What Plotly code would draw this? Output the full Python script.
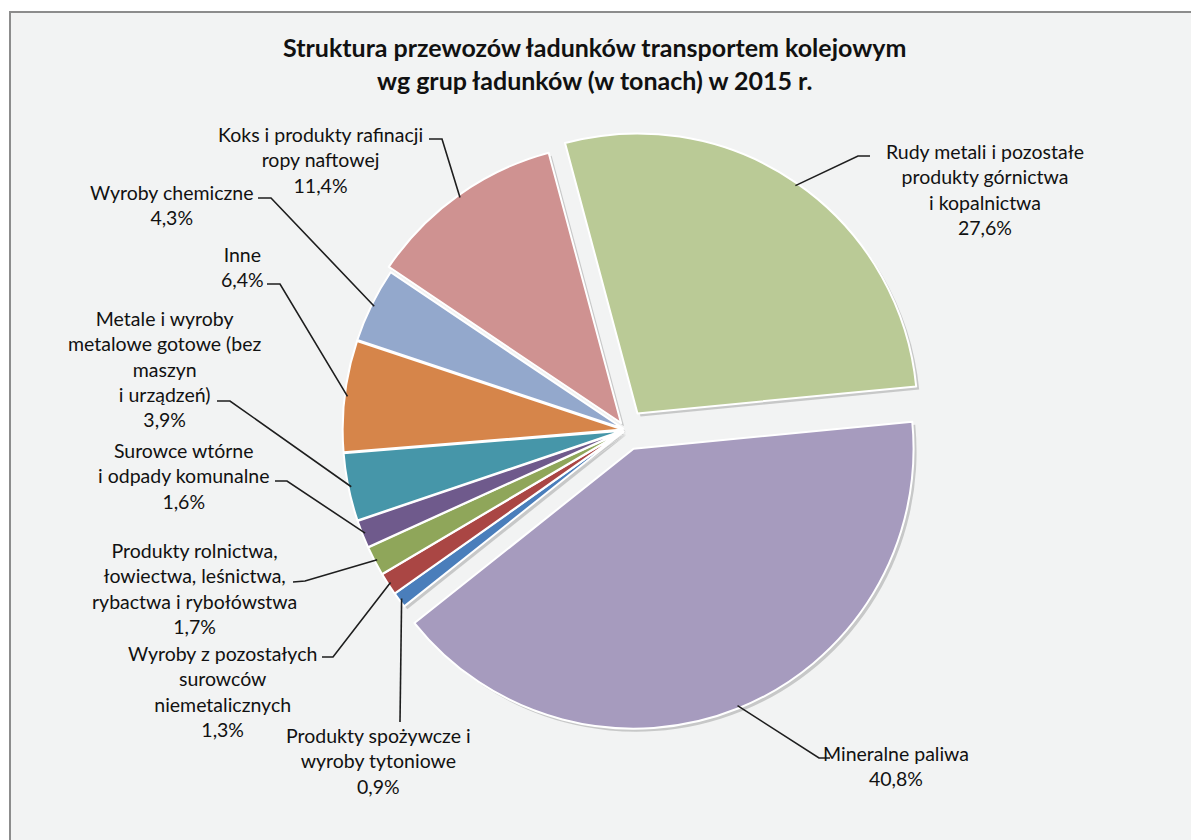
import math
import plotly.graph_objects as go

# ---------------- data ----------------
categories = [
    "Rudy metali i pozostałe produkty górnictwa i kopalnictwa",
    "Mineralne paliwa",
    "Produkty spożywcze i wyroby tytoniowe",
    "Wyroby z pozostałych surowców niemetalicznych",
    "Produkty rolnictwa, łowiectwa, leśnictwa, rybactwa i rybołówstwa",
    "Surowce wtórne i odpady komunalne",
    "Metale i wyroby metalowe gotowe (bez maszyn i urządzeń)",
    "Inne",
    "Wyroby chemiczne",
    "Koks i produkty rafinacji ropy naftowej",
]
values = [27.6, 40.8, 0.9, 1.3, 1.7, 1.6, 3.9, 6.4, 4.3, 11.4]
label_lines = [
    "Rudy metali i pozostałe<br>produkty górnictwa<br>i kopalnictwa",
    "Mineralne paliwa",
    "Produkty spożywcze i<br>wyroby tytoniowe",
    "Wyroby z pozostałych<br>surowców<br>niemetalicznych",
    "Produkty rolnictwa,<br>łowiectwa, leśnictwa,<br>rybactwa i rybołówstwa",
    "Surowce wtórne<br>i odpady komunalne",
    "Metale i wyroby<br>metalowe gotowe (bez<br>maszyn<br>i urządzeń)",
    "Inne",
    "Wyroby chemiczne",
    "Koks i produkty rafinacji<br>ropy naftowej",
]
title_lines = [
    "Struktura przewozów ładunków transportem kolejowym",
    "wg grup ładunków (w tonach) w 2015 r.",
]

# ---------------- styles / layout ----------------
colors = ["#BACA96", "#A69BBE", "#4A7EBB", "#AA4644", "#8FA65A",
          "#6F5A8C", "#4696A9", "#D6854A", "#93A8CC", "#CF9291"]
pulls = [0.072, 0.072, 0.012, 0.012, 0.012, 0.012, 0.012, 0.012, 0.012, 0.03]

W, H = 1191, 840
CX, CY, R = 626, 430, 280    # pie centre and radius in pixels
ROTATION = -15

# label block centres (px) and leader start / elbow points (px)
label_pos = [(985, 190), (896, 766), (378, 761), (222, 691), (194, 588),
             (183, 476), (165, 369), (242, 267), (171, 205), (320, 160)]
leader_start = [(870, 156), (830, 758), (400, 722), (322, 657), (293, 582),
                (275, 481), (217, 401), (267, 284), (258, 198), (429, 139)]
leader_elbow = [(858, 156), (819, 758), (400, 722), (333, 657), (305, 581),
                (287, 481), (230, 401), (280, 284), (271, 198), (442, 139)]

FONT = "Lato, 'Open Sans', sans-serif"


def px(x):
    return x / W


def py(y):
    return 1 - y / H


maxpull = max(pulls)
half = R * (1 + maxpull)
dom_x = [px(CX - half), px(CX + half)]
dom_y = [py(CY + half), py(CY - half)]

fig = go.Figure()

# soft shadow under the slices
sh = 3
fig.add_trace(go.Pie(
    labels=categories, values=values, sort=False, direction="clockwise",
    rotation=ROTATION, pull=pulls, textinfo="none", hoverinfo="skip",
    marker=dict(colors=["rgba(90,90,90,0.28)"] * len(values), line=dict(width=0)),
    domain=dict(x=[px(CX - half + sh), px(CX + half + sh)],
                y=[py(CY + half + sh), py(CY - half + sh)]),
    showlegend=False,
))

fig.add_trace(go.Pie(
    labels=categories, values=values, sort=False, direction="clockwise",
    rotation=ROTATION, pull=pulls, textinfo="none",
    marker=dict(colors=colors, line=dict(color="white", width=2)),
    domain=dict(x=dom_x, y=dom_y),
    showlegend=False,
))

# chart frame: white strips outside the frame on the left and top,
# frame itself runs past the right and bottom edges
shapes = [
    dict(type="rect", xref="paper", yref="paper",
         x0=-0.05, x1=px(9), y0=-0.05, y1=1.05,
         fillcolor="white", line=dict(width=0), layer="below"),
    dict(type="rect", xref="paper", yref="paper",
         x0=-0.05, x1=1.05, y0=py(11), y1=1.05,
         fillcolor="white", line=dict(width=0), layer="below"),
    dict(type="path", xref="paper", yref="paper",
         path=f"M {px(10)},-0.05 L {px(10)},{py(12)} L 1.05,{py(12)}",
         line=dict(color="#8C8C8C", width=2), layer="below"),
]

annotations = []
total = sum(values)
cum = 0.0
for i, v in enumerate(values):
    frac = v / total
    mid = math.radians(ROTATION + 360 * (cum + frac / 2))
    cum += frac
    ux, uy = math.sin(mid), -math.cos(mid)
    dist = R * (pulls[i] + 0.99)
    ex, ey = CX + ux * dist, CY + uy * dist
    sx, sy = leader_start[i]
    bx, by = leader_elbow[i]
    path = f"M {px(sx)},{py(sy)} L {px(bx)},{py(by)} L {px(ex)},{py(ey)}"
    shapes.append(dict(type="path", xref="paper", yref="paper", path=path,
                       line=dict(color="#1E1E1E", width=1.6), layer="above"))
    pct = f"{v:.1f}".replace(".", ",") + "%"
    lx, ly = label_pos[i]
    annotations.append(dict(
        x=px(lx), y=py(ly), xref="paper", yref="paper",
        text=label_lines[i] + "<br>" + pct, showarrow=False,
        xanchor="center", yanchor="middle", align="center",
        font=dict(family=FONT, size=19.5, color="#111111"),
    ))

for k, t in enumerate(title_lines):
    annotations.append(dict(
        x=px(594), y=py([47, 80][k]), xref="paper", yref="paper",
        text=f"<b>{t}</b>", showarrow=False, xanchor="center", yanchor="middle",
        font=dict(family=FONT, size=25, color="#111111"),
    ))

fig.update_layout(
    width=W, height=H, margin=dict(l=0, r=0, t=0, b=0),
    paper_bgcolor="#F2F3F3", plot_bgcolor="#F2F3F3",
    shapes=shapes, annotations=annotations, showlegend=False,
)

# remove the browser's default page margin so the figure fills the window
fig.write_html(
    "out.html",
    config=dict(displayModeBar=False),
    post_script="document.body.style.margin='0px';"
                "document.documentElement.style.overflow='hidden';"
                "document.body.style.overflow='hidden';",
)
